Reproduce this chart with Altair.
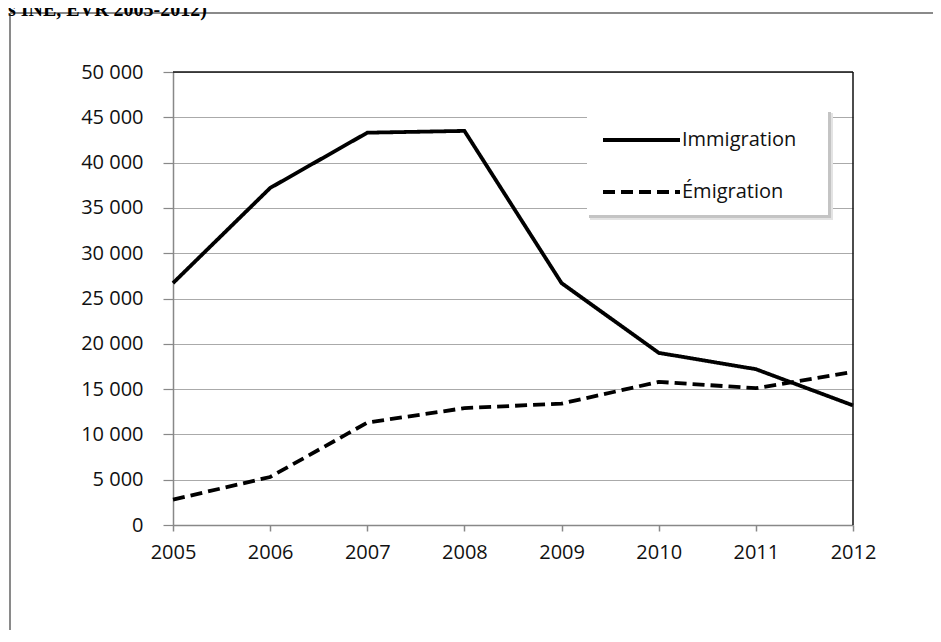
import altair as alt
import pandas as pd

years = [2005, 2006, 2007, 2008, 2009, 2010, 2011, 2012]
immigration = [26700, 37200, 43300, 43500, 26700, 19000, 17200, 13200]
emigration = [2800, 5300, 11300, 12900, 13400, 15800, 15100, 16900]
series_names = ["Immigration", "Émigration"]
y_ticks = [0, 5000, 10000, 15000, 20000, 25000, 30000, 35000, 40000, 45000, 50000]
header_text = "s INE, EVR 2005-2012)"

rows = []
for y, v in zip(years, immigration):
    rows.append({"year": y, "value": v, "series": series_names[0]})
for y, v in zip(years, emigration):
    rows.append({"year": y, "value": v, "series": series_names[1]})
df = pd.DataFrame(rows)

W, H = 680, 453
FONT = "Open Sans"
TXT = "#111111"
dummy = alt.Data(values=[{"a": 1}])

x_enc = alt.X(
    "year:Q",
    scale=alt.Scale(domain=[2005, 2012], nice=False, zero=False),
    axis=alt.Axis(values=years, format="d", title=None, grid=False,
                  domainColor="#888888", domainWidth=1.5, tickColor="#888888",
                  tickSize=6, tickWidth=1.5, labelFont=FONT, labelFontSize=20,
                  labelColor=TXT, labelPadding=11, labelFlush=False),
)
y_enc = alt.Y(
    "value:Q",
    scale=alt.Scale(domain=[0, 50000], nice=False),
    axis=alt.Axis(values=y_ticks, title=None, grid=True, gridColor="#aaaaaa",
                  gridWidth=1.2, domainColor="#888888", domainWidth=1.5,
                  tickColor="#888888", tickSize=10, tickWidth=1.2,
                  labelFont=FONT, labelFontSize=20, labelColor=TXT,
                  labelPadding=20,
                  labelExpr="replace(format(datum.value, ','), ',', ' ')"),
)

lines = alt.Chart(df).mark_line(color="black", strokeWidth=3.8).encode(
    x=x_enc,
    y=y_enc,
    strokeDash=alt.StrokeDash(
        "series:N",
        scale=alt.Scale(domain=series_names, range=[[1, 0], [12, 6]]),
        legend=None,
    ),
    detail="series:N",
)

# plot frame top/right (black)
top_border = alt.Chart(dummy).mark_rule(color="#111111", strokeWidth=1.5).encode(
    x=alt.value(0), x2=alt.value(W), y=alt.value(0))
right_border = alt.Chart(dummy).mark_rule(color="#111111", strokeWidth=1.5).encode(
    x=alt.value(W), y=alt.value(0), y2=alt.value(H))

# outer frame (page coords: left x=10, top y=13)
frame_left = alt.Chart(dummy).mark_rule(color="#8a8a8a", strokeWidth=2).encode(
    x=alt.value(-163), y=alt.value(-59), y2=alt.value(H + 110))
frame_top = alt.Chart(dummy).mark_rule(color="#8a8a8a", strokeWidth=2).encode(
    x=alt.value(-163), x2=alt.value(W + 90), y=alt.value(-59))

header = alt.Chart(dummy).mark_text(
    text=header_text, font="Liberation Serif", fontWeight="bold", fontSize=20,
    align="left", baseline="alphabetic", color="black").encode(
    x=alt.value(-165), y=alt.value(-56))

# legend box
LX0, LX1, LY0, LY1 = 414, 655, 38, 143
shadow2 = alt.Chart(dummy).mark_rect(color="#e3e3e3").encode(
    x=alt.value(LX0 + 3), x2=alt.value(LX1 + 5), y=alt.value(LY0 + 3), y2=alt.value(LY1 + 5))
shadow1 = alt.Chart(dummy).mark_rect(color="#c4c4c4").encode(
    x=alt.value(LX0 + 2), x2=alt.value(LX1 + 3), y=alt.value(LY0 + 2), y2=alt.value(LY1 + 3))
box = alt.Chart(dummy).mark_rect(color="white").encode(
    x=alt.value(LX0), x2=alt.value(LX1), y=alt.value(LY0), y2=alt.value(LY1))

leg_df = pd.DataFrame({"series": series_names, "ly": [68, 120]})
leg_lines = alt.Chart(leg_df).mark_rule(color="black", strokeWidth=3.8).encode(
    x=alt.value(430), x2=alt.value(507),
    y=alt.Y("ly:Q", scale=None),
    strokeDash=alt.StrokeDash(
        "series:N",
        scale=alt.Scale(domain=series_names, range=[[1, 0], [12, 6]]),
        legend=None,
    ),
)
leg_text = alt.Chart(leg_df).mark_text(
    font=FONT, fontSize=20, color=TXT, align="left", baseline="middle").encode(
    x=alt.value(509), y=alt.Y("ly:Q", scale=None), text="series:N")

chart = alt.layer(
    frame_left, frame_top, header, lines, top_border, right_border,
    shadow2, shadow1, box, leg_lines, leg_text,
).properties(
    width=W, height=H,
    autosize=alt.AutoSizeParams(type="none"),
    padding={"left": 165, "top": 64, "right": 80, "bottom": 105},
).configure_view(stroke=None).resolve_scale(strokeDash="independent")

chart.save("out.html", embed_options={"renderer": "svg", "actions": False})
